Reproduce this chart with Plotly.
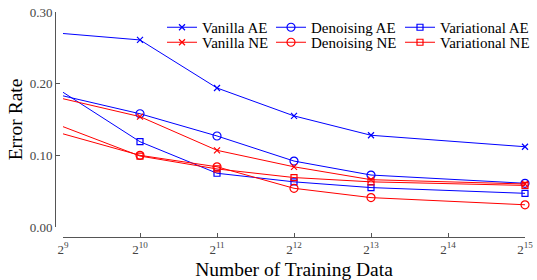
import plotly.graph_objects as go
import math

# Data
n_train = [512, 1024, 2048, 4096, 8192, 32768]
tick_vals = [512, 1024, 2048, 4096, 8192, 16384, 32768]
tick_text = ["2<sup>9</sup>", "2<sup>10</sup>", "2<sup>11</sup>", "2<sup>12</sup>",
             "2<sup>13</sup>", "2<sup>14</sup>", "2<sup>15</sup>"]
y_tick_vals = [0.0, 0.1, 0.2, 0.3]
y_tick_text = ["0.00", "0.10", "0.20", "0.30"]

vanilla_ae = [0.270, 0.261, 0.194, 0.155, 0.128, 0.112]
denoising_ae = [0.183, 0.158, 0.127, 0.092, 0.0725, 0.061]
variational_ae = [0.188, 0.119, 0.075, 0.063, 0.055, 0.047]
vanilla_ne = [0.179, 0.154, 0.107, 0.084, 0.066, 0.060]
denoising_ne = [0.130, 0.100, 0.084, 0.054, 0.041, 0.031]
variational_ne = [0.140, 0.099, 0.081, 0.069, 0.063, 0.058]

BLUE = "#0000FF"
RED = "#FF0000"
FONT = "Liberation Serif"

# the page body margin is removed (post_script), so the figure fills the window
OFF = 0
W, H = 537 - OFF, 280 - OFF
# layout expressed in window pixels, converted to figure pixels
AX_X, AX_Y = 55, 237          # y-axis line x, x-axis line y
X0, X1 = 63, 525              # 2^9 and 2^15 tick x
Y0, Y1 = 227, 12              # 0.00 and 0.30 tick y
ML, MT = AX_X - OFF, Y1 - OFF
MR = W - (X1 - OFF)
MB = H - (AX_Y - OFF)
PW, PH = W - ML - MR, H - MT - MB


def px_x(p):
    return (p - OFF - ML) / PW


def px_y(p):
    return (H - MB - (p - OFF)) / PH


# (name, values, colour, symbol, size, legend id, legend left px, legend top px)
series = [
    ("Vanilla AE", vanilla_ae, BLUE, "x-thin-open", 6, "legend", 162, 11),
    ("Denoising AE", denoising_ae, BLUE, "circle-open", 8, "legend2", 271, 11),
    ("Variational AE", variational_ae, BLUE, "square-open", 6, "legend3", 400, 11),
    ("Vanilla NE", vanilla_ne, RED, "x-thin-open", 6, "legend4", 162, 26),
    ("Denoising NE", denoising_ne, RED, "circle-open", 8, "legend5", 271, 26),
    ("Variational NE", variational_ne, RED, "square-open", 6, "legend6", 400, 26),
]

fig = go.Figure()
legends = {}
for name, vals, col, sym, sz, leg, lx, ly in series:
    fig.add_trace(go.Scatter(
        x=n_train, y=vals, name=name, mode="lines+markers",
        line=dict(color=col, width=1),
        marker=dict(symbol=sym, size=sz, color=col, line=dict(color=col, width=1.2)),
        cliponaxis=False, legend=leg, showlegend=True,
    ))
    legends[leg] = dict(
        x=px_x(lx), y=px_y(ly), xanchor="left", yanchor="top",
        orientation="v", bgcolor="rgba(0,0,0,0)", borderwidth=0,
        font=dict(family=FONT, size=15, color="black"), itemwidth=30,
        visible=True,
    )

axis_col = "#555555"
tick_font = dict(family=FONT, size=13, color="#444444")

fig.update_layout(
    template="none",
    showlegend=True,
    width=W, height=H, autosize=False,
    font=dict(family=FONT, size=13, color="black"),
    margin=dict(l=ML, r=MR, t=MT, b=MB, autoexpand=False),
    paper_bgcolor="white", plot_bgcolor="white",
    xaxis=dict(
        type="log",
        range=[math.log10(512), math.log10(32768)],
        domain=[px_x(X0), 1.0],
        anchor="free", position=0,
        showline=True, linecolor=axis_col, linewidth=1,
        ticks="inside", ticklen=4, tickcolor=axis_col,
        tickvals=tick_vals, ticktext=tick_text, tickfont=tick_font,
        ticklabeloverflow="allow",
        showgrid=False, zeroline=False, automargin=False,
        title=dict(text="Number of Training Data",
                   font=dict(family=FONT, size=19.5, color="black"), standoff=9),
    ),
    yaxis=dict(
        range=[0, 0.30],
        domain=[px_y(Y0), 1.0],
        anchor="free", position=0,
        showline=True, linecolor=axis_col, linewidth=1,
        ticks="inside", ticklen=4, tickcolor=axis_col,
        tickvals=y_tick_vals, ticktext=y_tick_text, tickfont=tick_font,
        ticklabeloverflow="allow",
        showgrid=False, zeroline=False, automargin=False,
        title=dict(text="Error Rate",
                   font=dict(family=FONT, size=19.5, color="black"), standoff=0),
    ),
    **legends,
)

fig.write_html("out.html",
               config={"displayModeBar": False},
               post_script="document.body.style.margin='0px';")
